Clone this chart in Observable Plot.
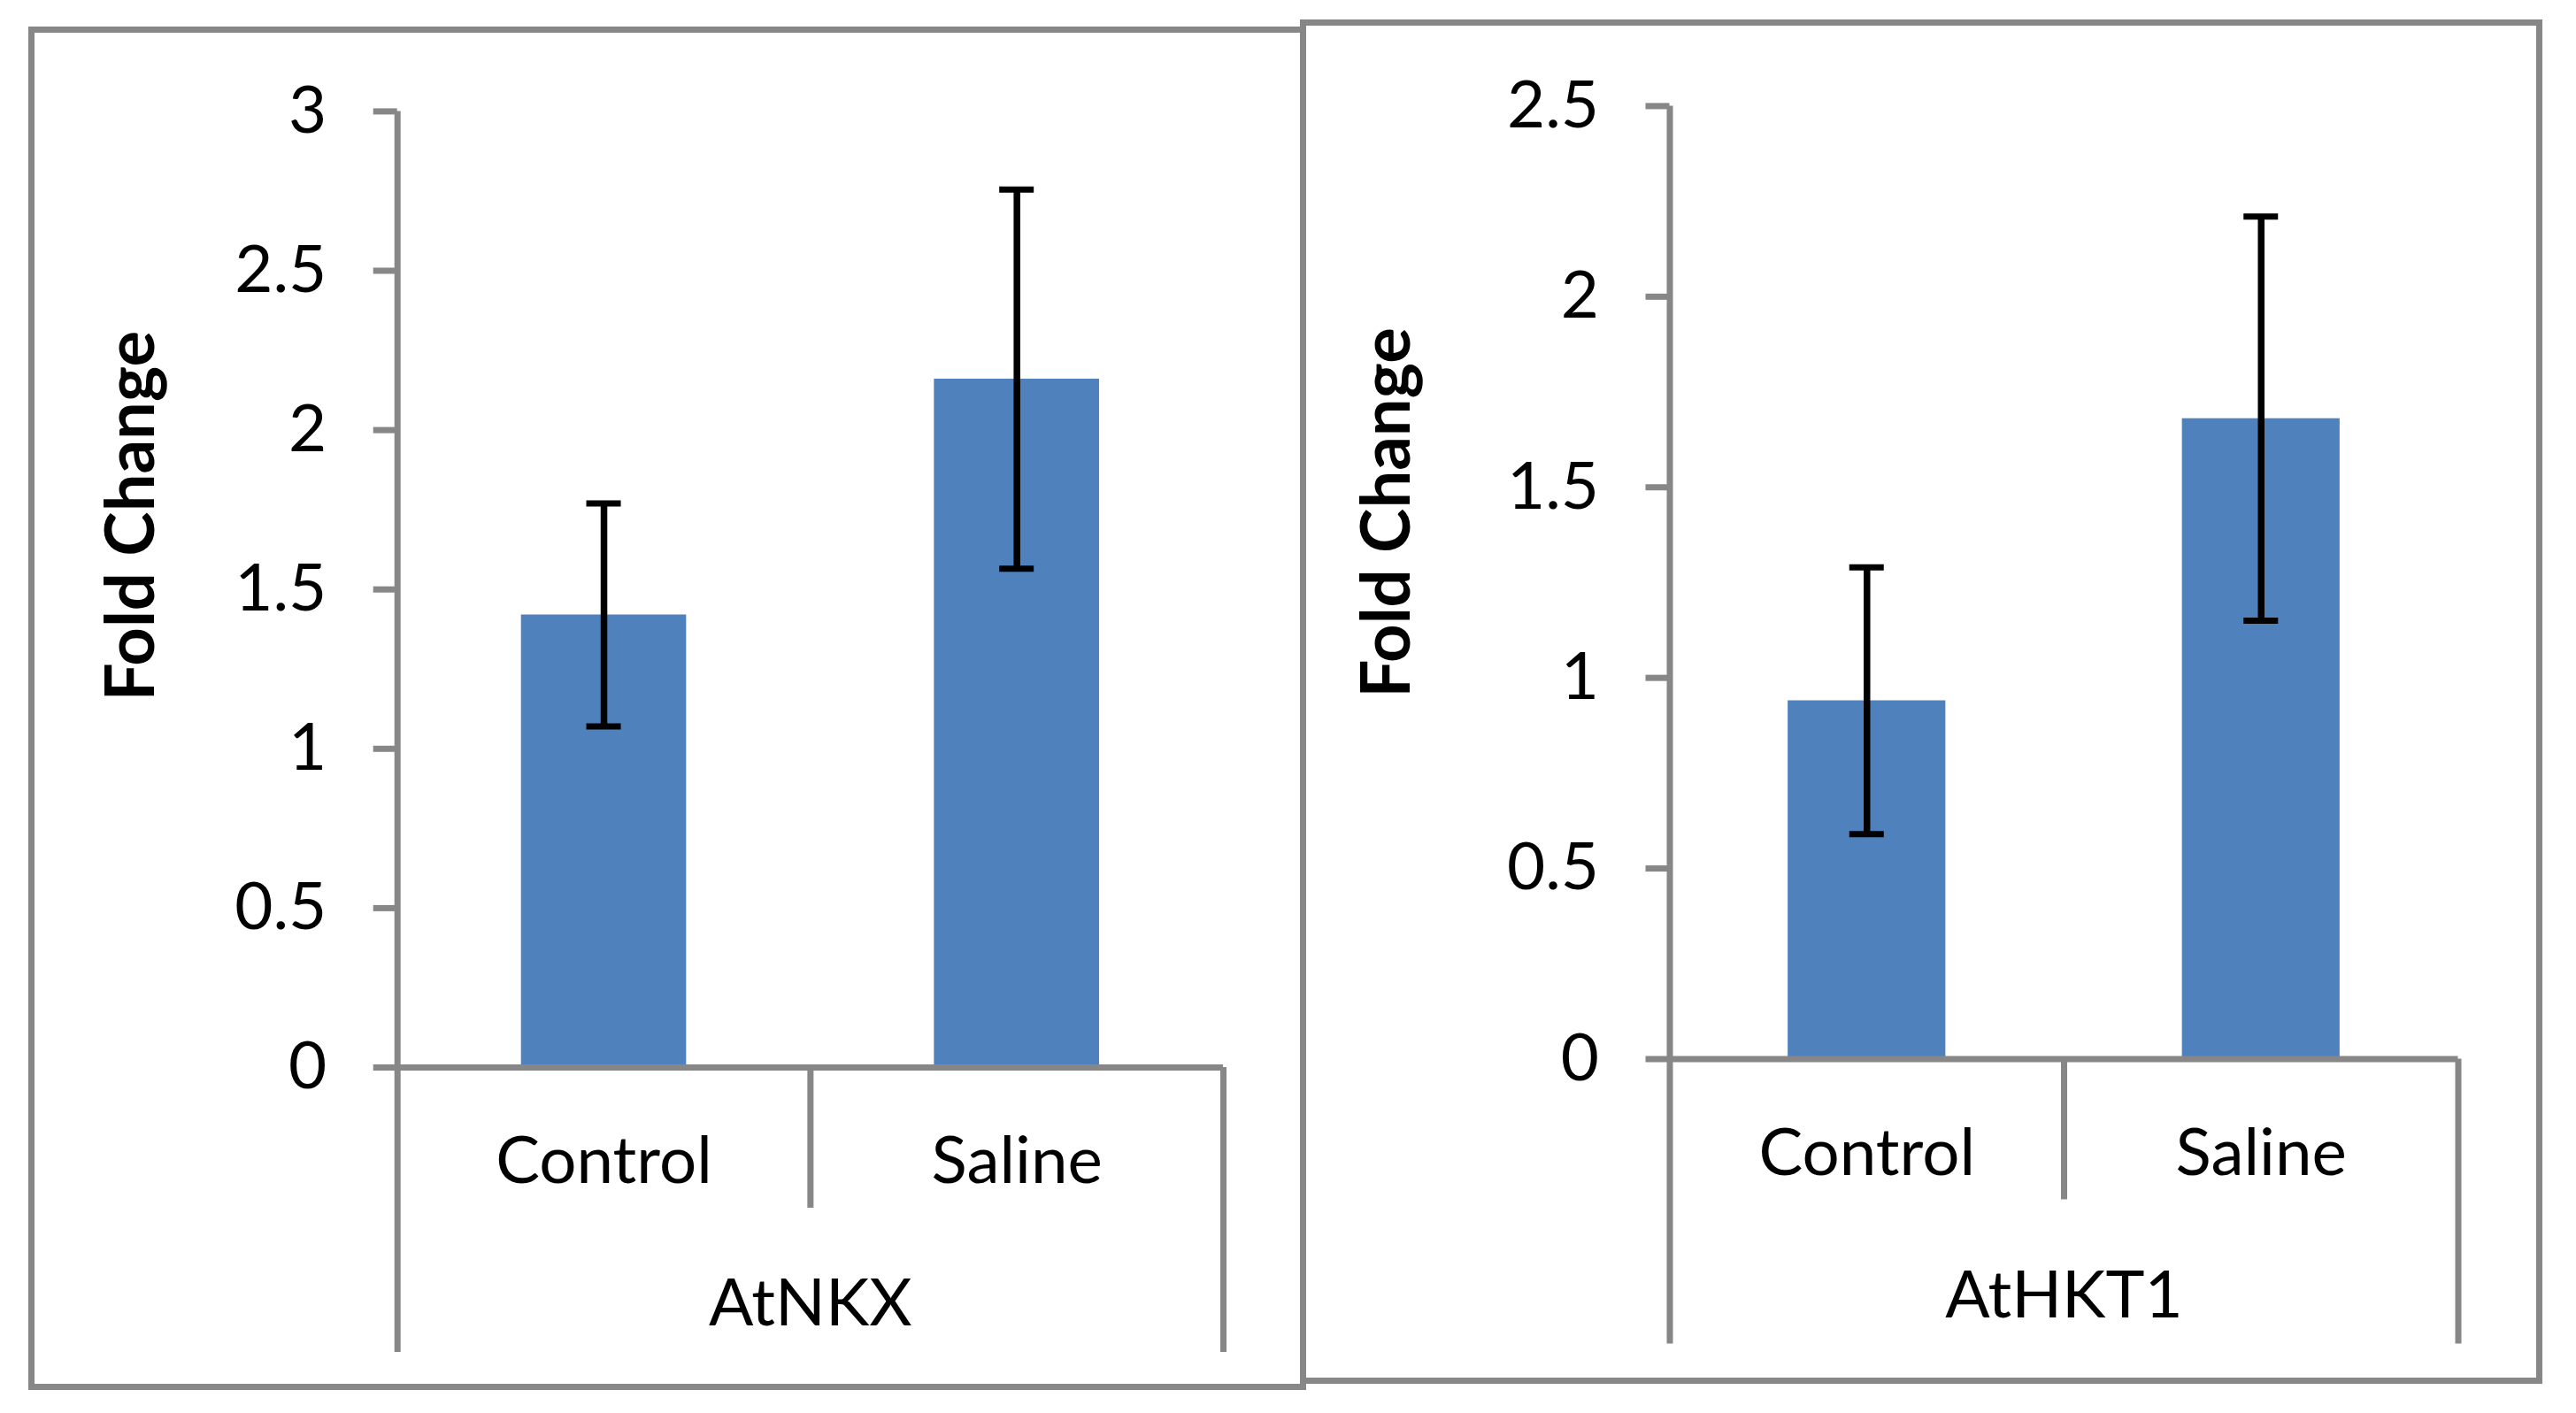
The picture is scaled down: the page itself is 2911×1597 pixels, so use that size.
<!DOCTYPE html>
<html>
<head>
<meta charset="utf-8">
<script src="https://cdn.jsdelivr.net/npm/d3@7"></script>
<script src="https://cdn.jsdelivr.net/npm/@observablehq/plot@0.6"></script>
<style>
html, body { margin: 0; padding: 0; background: #fff; }
#page { position: relative; width: 2911px; height: 1597px; background: #fff; overflow: hidden; }
.frame { position: absolute; box-sizing: border-box; border: 7px solid #878787; pointer-events: none; }
</style>
</head>
<body>
<div id="page"></div>
<script>
// ---- data ----
const categories = ["Control", "Saline"];
const groups = ["AtNKX", "AtHKT1"];
const nkxMeans = [1.42, 2.16];
const nkxErrors = [0.35, 0.595];
const hktMeans = [0.94, 1.68];
const hktErrors = [0.35, 0.53];
const nkxTicks = [0, 0.5, 1, 1.5, 2, 2.5, 3];
const hktTicks = [0, 0.5, 1, 1.5, 2, 2.5];
const yLabel = "Fold Change";

// ---- styles ----
const BLUE = "#4F81BD";
const GRAY = "#878787";
const FONT = "Lato, 'Open Sans', sans-serif";
const FS = 74.5;
const BAR_HALF = 0.2;      // bar half-width as a fraction of a category
const LINE = 7;

const page = document.getElementById("page");

function panel({group, means, errors, ticks, box, margins, labelDx, labelDy}) {
  const n = categories.length;
  const rows = categories.map((c, i) => ({
    category: c,
    pos: i + 0.5,
    mean: means[i],
    lo: means[i] - errors[i],
    hi: means[i] + errors[i]
  }));
  const yMax = ticks[ticks.length - 1];
  const inner = d3.range(1, n);

  const chart = Plot.plot({
    width: box.w,
    height: box.h,
    marginLeft: margins.left,
    marginRight: margins.right,
    marginTop: margins.top,
    marginBottom: margins.bottom,
    style: {fontFamily: FONT, background: "transparent", overflow: "visible", color: "black"},
    x: {domain: [0, n], axis: null},
    y: {domain: [0, yMax], axis: null},
    marks: [
      Plot.rect(rows, {x1: d => d.pos - BAR_HALF, x2: d => d.pos + BAR_HALF, y1: 0, y2: "mean", fill: BLUE}),
      Plot.ruleY([0], {stroke: GRAY, strokeWidth: LINE}),
      Plot.axisY({
        ticks, tickFormat: d => String(d), tickSize: 27, tickPadding: 53,
        fontSize: FS, stroke: GRAY, strokeWidth: LINE, fill: "black", label: null
      }),
      Plot.ruleX([0], {x: d => d, y1: yMax, y2: 0, insetBottom: -322, stroke: GRAY, strokeWidth: LINE}),
      Plot.ruleX([n], {x: d => d, y1: 0, y2: 0, insetBottom: -322, stroke: GRAY, strokeWidth: LINE}),
      Plot.ruleX(inner, {x: d => d, y1: 0, y2: 0, insetBottom: -159, stroke: GRAY, strokeWidth: LINE}),
      Plot.ruleX(rows, {x: "pos", y1: "lo", y2: "hi", stroke: "black", strokeWidth: 7.5}),
      Plot.ruleY(rows, {x1: "pos", x2: "pos", y: "hi", insetLeft: -19.5, insetRight: -19.5, stroke: "black", strokeWidth: 7}),
      Plot.ruleY(rows, {x1: "pos", x2: "pos", y: "lo", insetLeft: -19.5, insetRight: -19.5, stroke: "black", strokeWidth: 7}),
      Plot.text(rows, {x: "pos", y: 0, dy: 107, text: "category", fontSize: FS, fill: "black"}),
      Plot.text([group], {x: n / 2, y: 0, dy: 268, text: d => d, fontSize: FS, fill: "black"}),
      Plot.text([yLabel], {frameAnchor: "left", textAnchor: "middle", rotate: -90, dx: labelDx, dy: labelDy,
        text: d => d, fontSize: 76, fontWeight: "bold", fill: "black"})
    ]
  });
  chart.style.position = "absolute";
  chart.style.left = box.x + "px";
  chart.style.top = box.y + "px";
  chart.style.maxWidth = "none";
  page.appendChild(chart);

  const frame = document.createElement("div");
  frame.className = "frame";
  frame.style.left = box.x + "px";
  frame.style.top = box.y + "px";
  frame.style.width = box.w + "px";
  frame.style.height = box.h + "px";
  page.appendChild(frame);
}

panel({
  group: groups[0], means: nkxMeans, errors: nkxErrors, ticks: nkxTicks,
  box: {x: 32, y: 30, w: 1444, h: 1541},
  margins: {left: 416.7, right: 94, top: 95.4, bottom: 365},
  labelDx: -300, labelDy: -83
});

panel({
  group: groups[1], means: hktMeans, errors: hktErrors, ticks: hktTicks,
  box: {x: 1469, y: 22, w: 1404, h: 1542},
  margins: {left: 417.5, right: 95.5, top: 97.4, bottom: 367.5},
  labelDx: -318, labelDy: -79
});
</script>
</body>
</html>
